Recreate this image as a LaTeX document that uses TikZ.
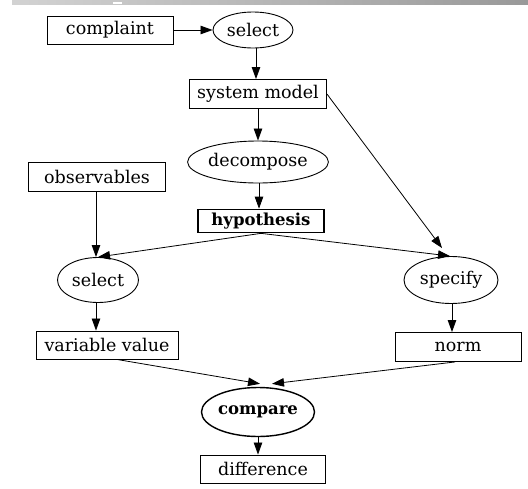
\documentclass[tikz,border=0pt]{standalone}
\usepackage{fontspec}
\setmainfont{DejaVu Serif}
\usetikzlibrary{arrows.meta,shapes.geometric}
\begin{document}
\begin{tikzpicture}[x=1pt,y=-1pt,
  every node/.style={font=\fontsize{17.5}{20}\selectfont},
  box/.style={draw, line width=0.9pt, rectangle, inner sep=0pt},
  oval/.style={draw, line width=0.9pt, ellipse, inner sep=0pt},
  strong/.style={font=\fontsize{16.5}{20}\selectfont\bfseries},
  flow/.style={draw, line width=0.8pt, -{Triangle[length=12pt,width=8.5pt]}}]
\useasboundingbox (0,0) rectangle (528,488);
% header strip
\shade[left color=gray!35, right color=gray!80] (12,0) rectangle (528,4);
\fill[white] (113,2) rectangle (122,4);

% nodes
\node[box, minimum width=126pt, minimum height=28pt] (complaint) at (110,30) {complaint};
\node[oval, minimum width=80pt, minimum height=36pt] (sel1) at (253,30) {select};
\node[box, minimum width=137pt, minimum height=29pt] (sysm) at (258,94) {system model};
\node[oval, minimum width=129pt, minimum height=42pt] (decomp) at (258,162) {decompose};
\node[box, strong, line width=1.7pt, minimum width=126pt, minimum height=23pt] (hyp) at (261,221) {hypothesis};
\node[box, minimum width=137pt, minimum height=29pt] (obs) at (97,177) {observables};
\node[oval, minimum width=81pt, minimum height=45pt] (sel2) at (98,280) {select};
\node[box, minimum width=142pt, minimum height=28pt] (varval) at (107,345) {variable value};
\node[oval, minimum width=94pt, minimum height=47pt] (spec) at (451,280) {specify};
\node[box, minimum width=126pt, minimum height=29pt] (norm) at (458,347) {norm};
\node[oval, strong, line width=1.4pt, minimum width=107pt, minimum height=49pt] (compare) at (258,412) {compare};
\node[box, minimum width=125pt, minimum height=28pt] (diff) at (263,469) {difference};

% connectors
\path[flow] (complaint.east) -- (sel1.west);
\path[flow] ([xshift=3pt]sel1.south) -- ([xshift=-2pt]sysm.north);
\path[flow] (sysm.south) -- (decomp.north);
\path[flow] ([xshift=1pt]decomp.south) -- ([xshift=-2pt]hyp.north);
\path[flow] (sysm.east) -- ([xshift=-9pt,yshift=8pt]spec.north);
\path[flow] (hyp.south) -- (sel2.north);
\path[flow] (hyp.south) -- ([xshift=-1pt]spec.north);
\path[flow] ([xshift=-1pt]obs.south) -- ([xshift=-2pt]sel2.north);
\path[flow] ([xshift=-2pt]sel2.south) -- ([xshift=-2pt]sel2.south |- varval.north);
\path[flow] ([xshift=1pt]spec.south) -- ([xshift=1pt]spec.south |- norm.north);
\path[flow] ([xshift=10pt]varval.south) -- ([xshift=2pt,yshift=3pt]compare.north);
\path[flow] ([xshift=-3pt]norm.south) -- ([xshift=14pt,yshift=3pt]compare.north);
\path[flow] (compare.south) -- (compare.south |- diff.north);
\end{tikzpicture}
\end{document}
